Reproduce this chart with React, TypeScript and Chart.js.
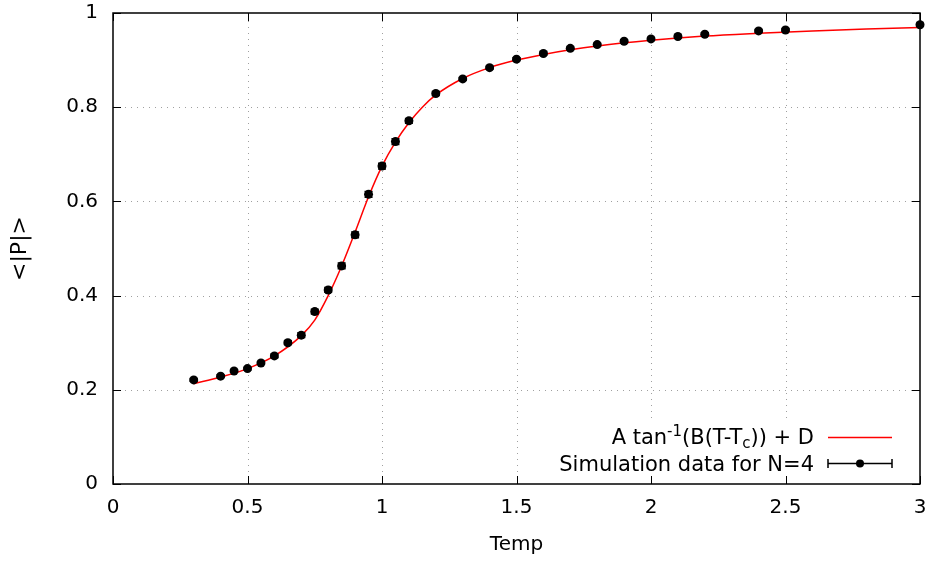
import React, { useEffect, useRef } from "react";
import { Chart, registerables } from "chart.js";

Chart.register(...registerables);

// ---- data ----
const tempValues = [0.3, 0.4, 0.45, 0.5, 0.55, 0.6, 0.65, 0.7, 0.75, 0.8, 0.85, 0.9, 0.95, 1.0, 1.05, 1.1, 1.2, 1.3, 1.4, 1.5, 1.6, 1.7, 1.8, 1.9, 2.0, 2.1, 2.2, 2.4, 2.5, 3.0];
const polarization = [0.221, 0.229, 0.240, 0.245, 0.257, 0.272, 0.300, 0.316, 0.366, 0.412, 0.463, 0.529, 0.615, 0.675, 0.727, 0.771, 0.829, 0.860, 0.884, 0.902, 0.914, 0.925, 0.933, 0.940, 0.945, 0.950, 0.955, 0.962, 0.964, 0.975];
const polErrors = [0.003, 0.003, 0.003, 0.003, 0.003, 0.004, 0.004, 0.005, 0.005, 0.005, 0.006, 0.006, 0.006, 0.006, 0.006, 0.005, 0.004, 0.003, 0.003, 0.003, 0.003, 0.003, 0.003, 0.003, 0.003, 0.003, 0.003, 0.003, 0.003, 0.003];

const fitTemps = [0.3, 0.4, 0.5, 0.6, 0.7, 0.75, 0.8, 0.85, 0.9, 0.95, 1.0, 1.05, 1.1, 1.15, 1.2, 1.3, 1.4, 1.5, 1.6, 1.7, 1.8, 2.0, 2.2, 2.4, 2.6, 2.8, 3.0];
const fitValues = [0.213, 0.227, 0.245, 0.272, 0.315, 0.348, 0.400, 0.463, 0.535, 0.610, 0.675, 0.726, 0.767, 0.800, 0.826, 0.861, 0.884, 0.900, 0.912, 0.922, 0.930, 0.942, 0.951, 0.957, 0.962, 0.966, 0.969];

const xTickValues = [0, 0.5, 1, 1.5, 2, 2.5, 3];
const yTickValues = [0, 0.2, 0.4, 0.6, 0.8, 1];

const xTitle = "Temp";
const yTitle = "<|P|>";
const fitLabelParts = [
  { text: "A tan", kind: "normal" },
  { text: "-1", kind: "sup" },
  { text: "(B(T-T", kind: "normal" },
  { text: "c", kind: "sub" },
  { text: ")) + D", kind: "normal" },
];
const dataLabel = "Simulation data for N=4";

const FONT = "'DejaVu Sans', sans-serif";

const gnuplotPlugin = {
  id: "gnuplotDecor",
  beforeDatasetsDraw(chart: any) {
    const { ctx, chartArea: a, scales } = chart;
    const xs = scales.x;
    const ys = scales.y;
    ctx.save();
    ctx.strokeStyle = "#a0a0a0";
    ctx.lineWidth = 1;
    ctx.setLineDash([1, 5]);
    xTickValues.forEach((v) => {
      if (v === xs.min || v === xs.max) return;
      const px = Math.round(xs.getPixelForValue(v)) + 0.5;
      ctx.beginPath();
      ctx.moveTo(px, a.bottom);
      ctx.lineTo(px, a.top);
      ctx.stroke();
    });
    yTickValues.forEach((v) => {
      if (v === ys.min || v === ys.max) return;
      const py = Math.round(ys.getPixelForValue(v)) + 0.5;
      ctx.beginPath();
      ctx.moveTo(a.left, py);
      ctx.lineTo(a.right, py);
      ctx.stroke();
    });
    ctx.setLineDash([]);
    // opaque key area
    ctx.fillStyle = "#ffffff";
    ctx.fillRect(545, 422, a.right - 546, a.bottom - 423);
    ctx.restore();
  },
  afterDatasetsDraw(chart: any) {
    const { ctx, chartArea: a, scales } = chart;
    const xs = scales.x;
    const ys = scales.y;
    ctx.save();
    // error bars
    ctx.strokeStyle = "#000";
    ctx.lineWidth = 1.5;
    tempValues.forEach((t, i) => {
      const px = xs.getPixelForValue(t);
      const y1 = ys.getPixelForValue(polarization[i] - polErrors[i]);
      const y2 = ys.getPixelForValue(polarization[i] + polErrors[i]);
      ctx.beginPath();
      ctx.moveTo(px, y1);
      ctx.lineTo(px, y2);
      ctx.moveTo(px - 4, y1);
      ctx.lineTo(px + 4, y1);
      ctx.moveTo(px - 4, y2);
      ctx.lineTo(px + 4, y2);
      ctx.stroke();
    });
    // frame
    ctx.lineWidth = 1.5;
    ctx.strokeRect(a.left, a.top, a.right - a.left, a.bottom - a.top);
    // inward ticks
    ctx.lineWidth = 1;
    const tl = 8;
    xTickValues.forEach((v) => {
      const px = Math.round(xs.getPixelForValue(v)) + 0.5;
      ctx.beginPath();
      ctx.moveTo(px, a.bottom);
      ctx.lineTo(px, a.bottom - tl);
      ctx.moveTo(px, a.top);
      ctx.lineTo(px, a.top + tl);
      ctx.stroke();
    });
    yTickValues.forEach((v) => {
      const py = Math.round(ys.getPixelForValue(v)) + 0.5;
      ctx.beginPath();
      ctx.moveTo(a.left, py);
      ctx.lineTo(a.left + tl, py);
      ctx.moveTo(a.right, py);
      ctx.lineTo(a.right - tl, py);
      ctx.stroke();
    });
    // legend
    const textRight = 814;
    const base1 = 444;
    const base2 = 471;
    const normalFont = `21px ${FONT}`;
    const smallFont = `15px ${FONT}`;
    ctx.fillStyle = "#000";
    ctx.textBaseline = "alphabetic";
    ctx.textAlign = "left";
    let total = 0;
    fitLabelParts.forEach((p) => {
      ctx.font = p.kind === "normal" ? normalFont : smallFont;
      total += ctx.measureText(p.text).width;
    });
    let cx = textRight - total;
    fitLabelParts.forEach((p) => {
      ctx.font = p.kind === "normal" ? normalFont : smallFont;
      const dy = p.kind === "sup" ? -8 : p.kind === "sub" ? 4 : 0;
      ctx.fillText(p.text, cx, base1 + dy);
      cx += ctx.measureText(p.text).width;
    });
    ctx.font = normalFont;
    ctx.textAlign = "right";
    ctx.fillText(dataLabel, textRight, base2);
    // samples
    const sx1 = 828;
    const sx2 = 892;
    ctx.strokeStyle = "#ff0000";
    ctx.lineWidth = 1.5;
    ctx.beginPath();
    ctx.moveTo(sx1, 437.5);
    ctx.lineTo(sx2, 437.5);
    ctx.stroke();
    ctx.strokeStyle = "#000";
    ctx.beginPath();
    ctx.moveTo(sx1, 463.5);
    ctx.lineTo(sx2, 463.5);
    ctx.moveTo(sx1, 459);
    ctx.lineTo(sx1, 468);
    ctx.moveTo(sx2, 459);
    ctx.lineTo(sx2, 468);
    ctx.stroke();
    ctx.beginPath();
    ctx.arc((sx1 + sx2) / 2, 463.5, 4, 0, Math.PI * 2);
    ctx.fill();
    ctx.restore();
  },
};

export default function App() {
  const ref = useRef<HTMLCanvasElement | null>(null);
  useEffect(() => {
    document.body.style.margin = "0";
    const canvas = ref.current;
    if (!canvas) return;
    const chart = new Chart(canvas, {
      type: "scatter",
      data: {
        datasets: [
          {
            label: dataLabel,
            data: tempValues.map((t, i) => ({ x: t, y: polarization[i] })),
            showLine: false,
            pointRadius: 4.5,
            pointHoverRadius: 4.5,
            pointStyle: "circle",
            backgroundColor: "#000",
            borderColor: "#000",
            borderWidth: 0,
            clip: false,
            order: 0,
          },
          {
            label: "fit",
            data: fitTemps.map((t, i) => ({ x: t, y: fitValues[i] })),
            showLine: true,
            borderColor: "#ff0000",
            borderWidth: 1.5,
            pointRadius: 0,
            cubicInterpolationMode: "monotone",
            fill: false,
            order: 1,
          },
        ],
      },
      options: {
        animation: false,
        responsive: false,
        events: [],
        layout: { padding: { top: 13, right: 11, left: 0, bottom: 0 } },
        plugins: { legend: { display: false }, tooltip: { enabled: false } },
        scales: {
          x: {
            type: "linear",
            min: 0,
            max: 3,
            afterBuildTicks: (s: any) => {
              s.ticks = xTickValues.map((v) => ({ value: v }));
            },
            afterFit: (s: any) => {
              s.height = 78;
              s.paddingLeft = 0;
              s.paddingRight = 0;
            },
            grid: { display: false, drawTicks: false },
            border: { display: false },
            ticks: {
              color: "#000",
              padding: 12,
              font: { family: FONT, size: 20 },
              maxRotation: 0,
              callback: (v: any) => String(v),
            },
            title: {
              display: true,
              text: xTitle,
              color: "#000",
              font: { family: FONT, size: 20 },
              padding: { top: 0, bottom: 5 },
            },
          },
          y: {
            type: "linear",
            min: 0,
            max: 1,
            afterBuildTicks: (s: any) => {
              s.ticks = yTickValues.map((v) => ({ value: v }));
            },
            afterFit: (s: any) => {
              s.width = 113;
              s.paddingTop = 0;
              s.paddingBottom = 0;
            },
            grid: { display: false, drawTicks: false },
            border: { display: false },
            ticks: {
              color: "#000",
              padding: 15,
              font: { family: FONT, size: 20 },
              callback: (v: any) => String(v),
            },
            title: {
              display: true,
              text: yTitle,
              color: "#000",
              font: { family: FONT, size: 22 },
              padding: { top: 7, bottom: 0 },
            },
          },
        },
      },
      plugins: [gnuplotPlugin],
    } as any);
    return () => chart.destroy();
  }, []);
  return (
    <div style={{ width: 931, height: 562 }}>
      <canvas ref={ref} width={931} height={562} style={{ display: "block", width: 931, height: 562 }} />
    </div>
  );
}
